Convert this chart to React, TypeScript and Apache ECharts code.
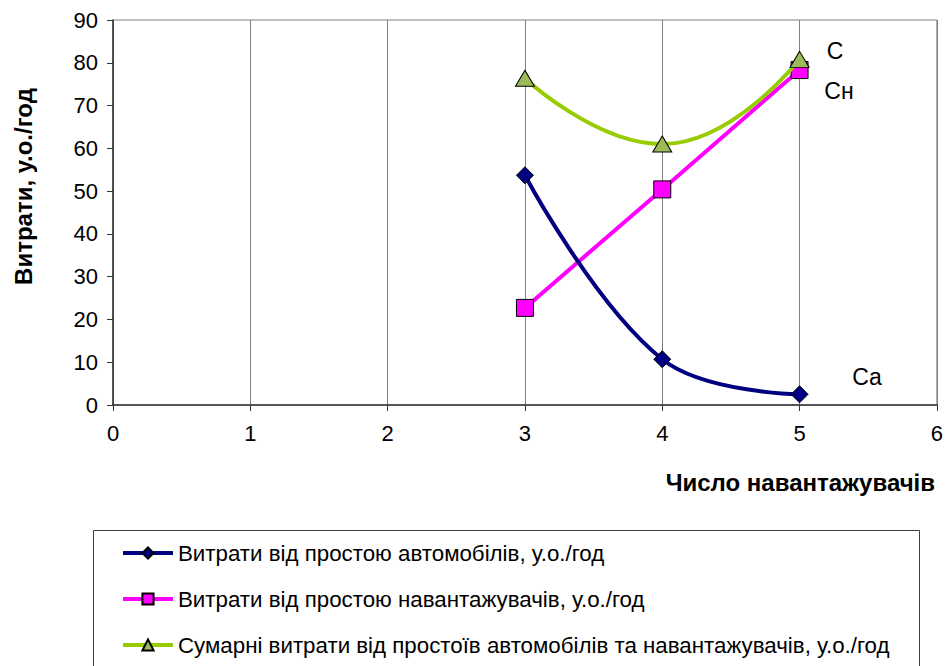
import React, { useEffect, useRef } from "react";
import * as echarts from "echarts";

const xValues = [3, 4, 5];
const caValues = [53.7, 10.7, 2.5];
const cnValues = [22.7, 50.4, 78.3];
const cValues = [76.4, 61.0, 80.8];
const seriesNames = [
  "Витрати від простою автомобілів, у.о./год",
  "Витрати від простою навантажувачів, у.о./год",
  "Сумарні витрати від простоїв автомобілів та навантажувачів, у.о./год",
];
const yAxisTitle = "Витрати, у.о./год";
const xAxisTitle = "Число навантажувачів";
const curveLabels = ["Ca", "Cн", "C"];

const FONT = "Liberation Sans, Arial, sans-serif";

export default function App() {
  const ref = useRef<HTMLDivElement>(null);
  useEffect(() => {
    if (!ref.current) return;
    const chart = echarts.init(ref.current, null, { renderer: "svg" });
    const pair = (ys: number[]) => xValues.map((x, i) => [x, ys[i]]);
    chart.setOption({
      animation: false,
      backgroundColor: "#ffffff",
      textStyle: { fontFamily: FONT },
      grid: {
        left: 113,
        right: 9,
        top: 20,
        bottom: 261,
        show: true,
        borderColor: "#808080",
        borderWidth: 1,
      },
      xAxis: {
        type: "value",
        min: 0,
        max: 6,
        interval: 1,
        axisLine: { show: true, lineStyle: { color: "#333333", width: 1.5 } },
        axisTick: { show: true, length: 6, lineStyle: { color: "#333333" } },
        axisLabel: { color: "#000", fontSize: 22, fontFamily: FONT, margin: 17 },
        splitLine: { show: true, lineStyle: { color: "#808080", width: 1 } },
      },
      yAxis: {
        type: "value",
        min: 0,
        max: 90,
        interval: 10,
        name: yAxisTitle,
        nameLocation: "middle",
        nameGap: 78,
        nameTextStyle: {
          color: "#000",
          fontSize: 24,
          fontWeight: "bold",
          fontFamily: FONT,
          padding: [0, 0, 0, 52],
        },
        axisLine: { show: true, lineStyle: { color: "#333333", width: 1.5 } },
        axisTick: { show: true, length: 6, lineStyle: { color: "#333333" } },
        axisLabel: { color: "#000", fontSize: 22, fontFamily: FONT, margin: 15 },
        splitLine: { show: false },
      },
      legend: {
        orient: "vertical",
        left: 116,
        top: 537,
        itemWidth: 50,
        itemHeight: 14,
        itemGap: 24,
        lineStyle: { width: 4 },
        textStyle: { color: "#000", fontSize: 22.3, fontFamily: FONT },
        data: seriesNames,
      },
      graphic: [
        {
          type: "rect",
          shape: { x: 93.5, y: 530.5, width: 826, height: 200 },
          style: { fill: "none", stroke: "#404040", lineWidth: 1 },
          silent: true,
        },
        {
          type: "text",
          x: 935,
          y: 482,
          style: {
            text: xAxisTitle,
            font: "bold 24px " + FONT,
            fill: "#000",
            textAlign: "right",
            textVerticalAlign: "middle",
          },
        },
        {
          type: "text",
          x: 867,
          y: 377,
          style: { text: curveLabels[0], font: "23px " + FONT, fill: "#000", textAlign: "center", textVerticalAlign: "middle" },
        },
        {
          type: "text",
          x: 839,
          y: 91,
          style: { text: curveLabels[1], font: "23px " + FONT, fill: "#000", textAlign: "center", textVerticalAlign: "middle" },
        },
        {
          type: "text",
          x: 835,
          y: 51,
          style: { text: curveLabels[2], font: "23px " + FONT, fill: "#000", textAlign: "center", textVerticalAlign: "middle" },
        },
      ],
      series: [
        {
          name: seriesNames[0],
          type: "line",
          data: pair(caValues),
          smooth: 0.4,
          symbol: "diamond",
          symbolSize: 17,
          lineStyle: { color: "#000080", width: 4 },
          itemStyle: { color: "#000080", borderColor: "#000000", borderWidth: 1 },
          z: 3,
        },
        {
          name: seriesNames[1],
          type: "line",
          data: pair(cnValues),
          smooth: false,
          symbol: "rect",
          symbolSize: 17,
          lineStyle: { color: "#FF00FF", width: 4 },
          itemStyle: { color: "#FF00FF", borderColor: "#000000", borderWidth: 1 },
          z: 2,
        },
        {
          name: seriesNames[2],
          type: "line",
          data: pair(cValues),
          smooth: 0.5,
          symbol: "triangle",
          symbolSize: [19, 16],
          lineStyle: { color: "#99CC00", width: 4 },
          itemStyle: { color: "#9BBB59", borderColor: "#000000", borderWidth: 1 },
          z: 4,
        },
      ],
    });
    return () => chart.dispose();
  }, []);
  return (
    <div
      ref={ref}
      style={{ position: "fixed", left: 0, top: 0, width: 946, height: 666 }}
    />
  );
}
